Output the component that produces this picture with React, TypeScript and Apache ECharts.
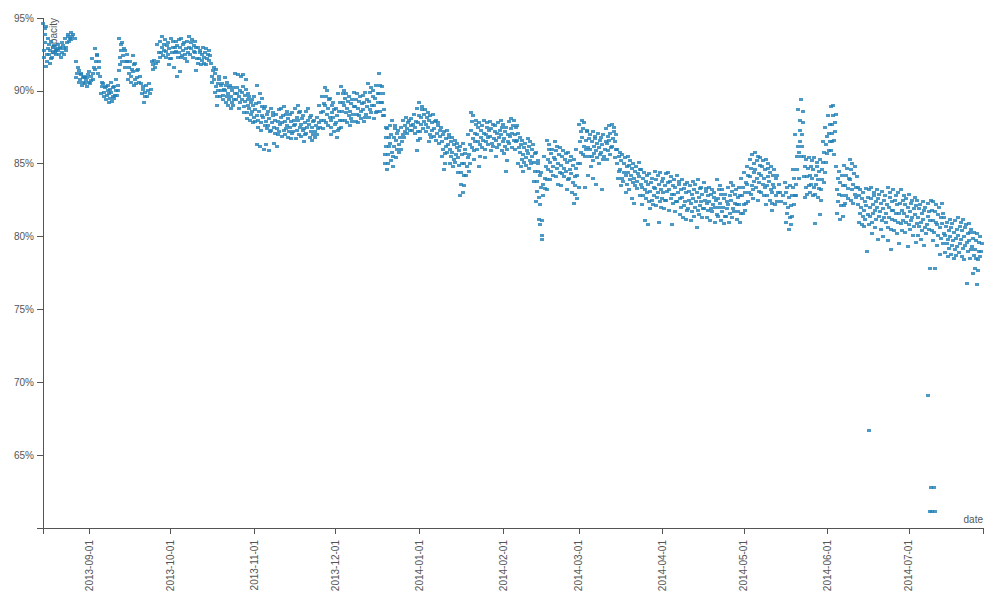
import React, { useEffect, useRef } from 'react';
import * as echarts from 'echarts';

// Battery capacity readings (%), one inner list per day.
const aug2013 = [
  [94.6, 94.3, 93.9, 93.3, 92.8, 92.3], [94.4, 93.6, 92.9, 92.5, 92.0, 91.7], [93.2, 92.8, 92.5, 92.2, 91.9],
  [93.4, 93.0, 92.6, 92.3], [93.1, 92.8, 92.5, 92.7], [92.9, 92.5, 92.8, 93.2], [93.0, 92.6, 92.3, 92.9],
  [93.3, 92.9, 92.5, 93.1], [93.6, 93.3, 92.8, 93.0], [93.9, 93.6, 93.4, 93.7], [94.0, 93.7, 93.5],
  [93.9, 93.6], [92.0, 91.6, 91.2, 90.9], [91.4, 91.1, 90.8, 90.6], [91.2, 90.9, 90.6, 90.4],
  [91.0, 90.7, 90.5, 90.9], [90.9, 90.6, 91.1, 90.3],
];
const sep2013 = [
  [91.3, 91.0, 90.7, 90.5], [92.2, 91.6, 91.2, 90.8], [92.9, 92.5, 92.0, 91.5], [92.4, 92.0, 91.6, 91.2],
  [91.0, 90.6, 90.3, 89.8], [90.5, 90.2, 89.9, 89.6], [90.3, 90.0, 89.7, 89.4], [90.4, 90.1, 89.8, 89.5, 89.2],
  [90.6, 90.2, 89.9, 89.6, 89.3], [90.3, 90.0, 89.7, 89.5], [90.8, 90.4, 90.0, 89.7],
  [93.6, 93.2, 92.8, 92.3, 91.8, 91.4], [93.3, 92.9, 92.4, 92.0], [92.8, 92.5, 92.0, 91.6],
  [92.0, 91.6, 91.2, 90.8], [92.0, 91.5, 91.0, 90.6], [92.4, 91.8, 91.3, 90.8, 90.4], [91.9, 91.4, 90.9, 90.5],
  [91.5, 91.0, 90.6], [90.5, 90.1, 89.8], [90.3, 89.9, 89.6, 89.2], [90.4, 90.0, 89.6], [90.5, 90.1, 89.8],
  [92.0, 91.8, 91.5], [92.1, 91.9, 91.6], [93.2, 92.6, 92.0], [93.4, 93.0, 92.6, 92.3], [93.7, 93.2, 92.8, 92.4],
  [93.5, 93.1, 92.7, 92.3], [93.3, 92.9, 92.5, 92.2, 91.8],
];
const oct2013 = [
  [93.6, 93.0, 92.6, 92.2], [93.4, 93.0, 92.6, 91.6], [93.4, 93.1, 92.7, 92.3, 91.0], [93.5, 93.0, 92.6, 92.3, 91.3],
  [93.6, 93.2, 92.8, 92.4], [93.3, 92.9, 92.5, 92.2], [93.4, 93.0, 92.6, 92.0], [93.7, 93.3, 92.9, 92.5],
  [93.5, 93.1, 92.7, 92.3], [93.4, 93.0, 92.6, 92.2, 91.4], [93.0, 92.6, 92.2, 91.9], [92.8, 92.5, 92.1, 91.8],
  [93.0, 92.6, 92.3, 91.9], [92.9, 92.5, 92.2, 91.8], [92.8, 92.4, 92.1], [91.9, 91.4, 91.0, 90.6],
  [91.6, 91.2, 90.8, 90.3, 89.9], [91.5, 91.0, 90.5, 90.0, 89.6, 89.0], [90.8, 90.4, 90.0, 89.6],
  [90.5, 90.1, 89.7, 89.4], [90.9, 90.4, 90.0, 89.6, 89.2], [90.6, 90.2, 89.8, 89.4, 89.0],
  [90.4, 90.0, 89.6, 89.2, 88.8], [90.2, 89.8, 89.4, 89.0], [91.2, 90.2, 89.8, 89.4],
  [91.1, 90.0, 89.6, 89.2, 88.8], [91.0, 90.3, 89.9, 89.4], [91.1, 90.1, 89.7, 89.3, 88.9, 88.5],
  [90.8, 89.8, 89.4, 89.0, 88.5, 88.1], [89.6, 89.2, 88.8, 88.4, 88.0], [89.4, 89.0, 88.6, 88.2, 87.8],
];
const nov2013 = [
  [89.6, 89.1, 88.7, 88.3, 87.9], [90.4, 89.2, 88.6, 88.0, 87.5, 86.3], [89.8, 88.9, 88.3, 87.8, 87.3, 86.2],
  [89.5, 88.8, 88.2, 87.6, 86.0], [88.9, 88.4, 87.9, 87.4, 86.3], [88.6, 88.1, 87.6, 87.2, 85.9],
  [88.8, 88.3, 87.8, 87.3], [88.5, 88.0, 87.5, 87.1, 86.4], [88.4, 87.9, 87.4, 87.0, 86.2], [88.7, 88.2, 87.7, 87.2],
  [88.8, 88.3, 87.8, 87.3, 86.9], [88.9, 88.4, 87.9, 87.4, 87.0], [88.6, 88.1, 87.6, 87.2, 86.8],
  [88.4, 87.9, 87.5, 87.1, 86.7], [88.5, 88.0, 87.6, 87.2], [88.8, 88.2, 87.7, 87.3, 86.7],
  [89.0, 88.5, 88.0, 87.5, 87.0], [88.6, 88.1, 87.7, 87.3, 86.9], [88.3, 87.8, 87.4, 87.0, 86.5],
  [88.6, 88.0, 87.5, 87.1], [88.8, 88.2, 87.7, 87.2, 86.8], [88.3, 87.9, 87.5, 87.0, 86.6], [88.0, 87.6, 87.2, 86.8],
  [88.2, 87.8, 87.4, 87.0], [89.0, 88.5, 88.0, 87.5], [89.6, 89.1, 88.6, 88.0, 87.4], [90.2, 89.6, 89.0, 88.4, 87.8],
  [90.0, 89.4, 88.8, 88.2, 87.6], [89.5, 89.0, 88.5, 88.0, 87.5, 87.0], [89.2, 88.7, 88.2, 87.7, 87.2],
];
const dec2013 = [
  [88.8, 88.3, 87.8, 87.3, 86.8], [89.8, 89.2, 88.6, 88.0, 87.4], [90.3, 89.8, 89.2, 88.6, 88.0, 87.5],
  [90.0, 89.5, 89.0, 88.5, 88.0], [89.8, 89.3, 88.8, 88.3, 87.8], [89.6, 89.1, 88.6, 88.1, 87.6],
  [89.4, 88.9, 88.4, 87.9], [89.9, 89.4, 88.9, 88.4, 87.9], [89.8, 89.3, 88.8, 88.3, 87.8], [89.6, 89.1, 88.6, 88.1],
  [89.7, 89.2, 88.7, 88.2, 87.9], [89.9, 89.4, 88.9, 88.4], [90.5, 89.9, 89.3, 88.7, 88.2], [90.2, 89.6, 89.0, 88.5],
  [90.0, 89.5, 89.0, 88.5, 88.1], [90.4, 89.8, 89.2, 88.6], [91.2, 90.4, 89.8, 89.2, 88.6],
  [90.3, 89.8, 89.2, 88.7, 88.3], [88.3, 87.5, 86.8, 86.2, 85.6, 85.0], [87.4, 86.8, 86.2, 85.6, 85.0, 84.6],
  [87.6, 87.0, 86.4, 85.8, 85.2], [88.0, 87.4, 86.8, 86.2, 85.5, 84.8], [87.6, 87.1, 86.6, 86.0, 85.4],
  [87.3, 86.8, 86.3, 85.8], [87.5, 87.0, 86.5, 86.0], [88.0, 87.6, 87.2, 86.8], [88.2, 87.8, 87.4, 87.1],
  [88.0, 87.6, 87.3], [88.1, 87.7, 87.3], [88.4, 87.9, 87.5, 87.1], [88.8, 88.3, 87.8, 87.2, 86.6, 85.9],
];
const jan2014 = [
  [89.2, 88.7, 88.2, 87.7, 87.2, 86.7], [88.9, 88.4, 87.9, 87.4], [88.7, 88.2, 87.7, 87.2],
  [88.5, 88.0, 87.5, 87.0, 86.5], [88.3, 87.8, 87.3, 86.8], [88.4, 87.9, 87.4, 86.9], [88.0, 87.6, 87.1, 86.6],
  [87.8, 87.3, 86.9, 86.4], [87.5, 87.0, 86.5, 86.0, 85.5], [87.2, 86.7, 86.2, 85.7, 85.0, 84.6],
  [87.3, 86.8, 86.3, 85.8], [87.0, 86.5, 86.0, 85.5, 85.0], [86.8, 86.3, 85.8, 85.3, 84.8], [86.6, 86.1, 85.6, 85.1],
  [86.4, 85.9, 85.4, 84.9, 84.4], [86.2, 85.6, 85.0, 84.4, 83.6, 82.8], [86.4, 85.7, 85.0, 84.2, 83.5, 83.0],
  [86.0, 85.4, 84.8, 84.2], [87.0, 86.3, 85.6, 85.0, 84.5], [88.5, 87.9, 87.3, 86.7, 86.1],
  [88.3, 87.7, 87.1, 86.5, 85.9, 85.3], [88.0, 87.5, 87.0, 86.5, 86.0], [87.8, 87.3, 86.8, 86.3, 85.5, 84.8],
  [87.6, 87.1, 86.6, 86.1], [88.0, 87.5, 87.0, 86.5, 86.0, 85.4], [87.8, 87.3, 86.8, 86.3],
  [87.9, 87.4, 86.9, 86.4, 85.9], [87.7, 87.2, 86.7, 86.2], [87.6, 87.1, 86.6, 86.1, 85.5], [87.8, 87.3, 86.8, 86.3],
  [88.0, 87.5, 87.0, 86.5, 85.9],
];
const feb2014 = [
  [87.7, 87.2, 86.7, 86.2, 85.7], [87.5, 87.0, 86.5, 86.0, 85.2, 84.5], [87.9, 87.4, 86.9, 86.4],
  [88.1, 87.6, 87.1, 86.6, 86.1], [88.0, 87.5, 87.0, 86.5, 86.0], [87.6, 87.1, 86.6, 86.1, 85.0],
  [86.8, 86.3, 85.8, 85.3, 84.8], [86.6, 86.1, 85.6, 85.1, 84.5], [86.4, 85.9, 85.4, 84.9],
  [86.7, 86.2, 85.7, 85.2, 84.7], [86.5, 86.0, 85.5, 85.0], [86.3, 85.7, 85.1, 84.5, 83.8],
  [85.8, 85.2, 84.5, 83.8, 83.1, 82.4], [85.0, 84.2, 83.4, 82.7, 82.2, 81.2, 80.8], [84.4, 83.6, 82.8, 81.1, 80.1, 79.8],
  [85.5, 84.8, 84.0, 83.3], [86.6, 86.0, 85.3, 84.6, 83.9, 83.2], [86.3, 85.7, 85.1, 84.5, 83.9],
  [86.0, 85.4, 84.8, 84.2], [86.5, 85.9, 85.3, 84.7, 84.1], [86.2, 85.6, 85.0, 84.4, 83.6],
  [86.1, 85.5, 84.9, 84.3, 83.5], [85.9, 85.3, 84.7, 84.1], [85.7, 85.1, 84.5, 83.9, 83.2], [85.8, 85.2, 84.6, 84.0],
  [85.5, 84.9, 84.3, 83.7, 83.0], [85.3, 84.7, 84.1, 83.5, 82.9, 82.3], [86.0, 85.0, 84.2, 83.4, 82.6],
];
const mar2014 = [
  [87.7, 87.2, 86.5, 85.8, 85.0], [88.0, 87.4, 86.8, 86.2, 85.6], [87.8, 87.2, 86.6, 86.0, 85.5, 83.4],
  [87.3, 86.7, 86.1, 85.5, 84.2], [87.0, 86.5, 86.0, 85.5, 84.8], [87.2, 86.7, 86.2, 85.7, 85.2, 84.0],
  [86.9, 86.4, 85.9, 85.4, 83.6], [87.1, 86.6, 86.1, 85.6, 85.0], [86.8, 86.3, 85.8, 85.3, 83.2],
  [87.0, 86.5, 86.0, 85.5], [87.4, 86.9, 86.4, 85.9, 85.3], [87.6, 87.1, 86.6, 86.1, 85.6], [87.7, 87.2, 86.7, 86.2],
  [87.5, 87.0, 86.5, 86.0, 85.4], [86.0, 85.5, 85.0, 84.5, 84.0], [85.8, 85.2, 84.6, 84.0, 83.5],
  [85.6, 85.0, 84.4, 83.8], [85.4, 84.8, 84.2, 83.6, 83.0], [85.5, 84.9, 84.4, 83.9, 83.2],
  [85.2, 84.7, 84.2, 83.7, 82.6], [85.0, 84.5, 84.0, 83.5, 82.3], [84.8, 84.3, 83.8, 83.3],
  [85.1, 84.6, 84.1, 83.6, 82.8], [84.6, 84.0, 83.4, 82.8, 82.2], [84.4, 83.8, 83.2, 82.6, 81.1],
  [84.2, 83.6, 83.0, 82.4, 80.8], [84.3, 83.7, 83.1, 82.5, 81.9], [84.0, 83.4, 82.8, 82.2],
  [84.5, 83.9, 83.3, 82.7, 82.1], [84.2, 83.6, 83.0, 82.4, 81.0], [84.4, 83.8, 83.2, 82.6, 82.0],
];
const apr2014 = [
  [84.0, 83.5, 83.0, 82.5, 81.9], [84.3, 83.7, 83.1, 82.5], [84.4, 83.8, 83.2, 82.6, 81.8],
  [84.1, 83.5, 82.9, 82.3, 80.8], [83.9, 83.4, 82.9, 82.4, 81.7], [84.2, 83.6, 83.0, 82.4],
  [83.8, 83.2, 82.6, 82.0, 81.5], [83.9, 83.3, 82.7, 82.1, 81.3], [83.6, 83.0, 82.4, 81.8, 81.2],
  [83.7, 83.1, 82.5, 81.9], [83.5, 82.9, 82.3, 81.7, 81.1], [83.8, 83.2, 82.6, 82.0, 81.4],
  [83.6, 83.0, 82.4, 81.8, 80.6], [83.9, 83.3, 82.7, 82.1, 81.5], [83.4, 82.9, 82.4, 81.9, 81.3],
  [83.7, 83.1, 82.5, 81.9], [83.3, 82.8, 82.3, 81.8, 81.3], [83.4, 82.9, 82.4, 81.9, 81.1], [83.2, 82.7, 82.2, 81.7],
  [83.0, 82.5, 82.0, 81.5, 81.0], [83.9, 83.2, 82.6, 82.0, 81.4], [83.5, 82.9, 82.3, 81.7, 81.1],
  [83.2, 82.6, 82.0, 81.4, 80.9], [82.9, 82.4, 81.9, 81.4], [83.4, 82.8, 82.2, 81.6, 81.0],
  [83.7, 83.1, 82.5, 81.9, 81.3], [83.5, 82.9, 82.3, 81.7], [83.2, 82.7, 82.2, 81.7, 81.2],
  [83.4, 82.8, 82.2, 81.6, 81.0], [84.0, 83.4, 82.8, 82.2, 81.6],
];
const may2014 = [
  [84.4, 83.7, 83.0, 82.3, 81.8], [84.8, 84.2, 83.6, 83.0, 82.4], [85.3, 84.7, 84.1, 83.5, 82.9],
  [85.6, 85.0, 84.4, 83.8, 83.2, 82.6], [85.8, 85.2, 84.6, 84.0, 83.4], [85.5, 84.9, 84.3, 83.7, 83.1, 82.5],
  [85.4, 84.8, 84.2, 83.6, 83.0], [85.2, 84.6, 84.0, 83.4, 82.8], [85.3, 84.7, 84.1, 83.5, 82.8, 82.2],
  [85.0, 84.4, 83.8, 83.2, 82.5], [84.8, 84.2, 83.6, 83.0, 82.3, 81.8], [84.6, 84.0, 83.4, 82.8, 82.2],
  [84.2, 83.6, 83.0, 82.4], [83.0, 82.4], [82.8], [83.7, 83.0, 82.3, 81.6, 81.0], [83.4, 82.7, 82.0, 81.3, 80.5],
  [83.5, 82.8, 82.1, 81.4, 80.8], [84.6, 84.0, 83.4, 82.8, 82.2], [87.0, 86.2, 85.5, 84.6, 83.6, 82.8],
  [88.7, 88.0, 87.3, 86.5, 85.8, 84.0], [89.4, 88.6, 87.8, 87.0, 86.2, 85.5], [85.5, 84.8, 84.1, 83.4, 82.7],
  [85.3, 84.7, 84.1, 83.5, 82.9], [85.4, 84.8, 84.2, 83.6, 83.0], [85.2, 84.6, 84.0, 83.4, 82.8],
  [85.4, 84.8, 84.2, 83.6, 82.9, 80.9], [85.1, 84.5, 83.9, 83.3, 82.7], [85.3, 84.6, 83.9, 83.2, 82.5, 81.5],
  [86.5, 85.8, 85.1, 84.4, 83.7], [87.5, 86.9, 86.3, 85.7, 85.1],
];
const jun2014 = [
  [88.3, 87.7, 87.1, 86.5, 85.9], [88.9, 88.3, 87.7, 87.1, 86.5, 85.9], [89.0, 88.4, 87.8, 87.2, 86.6, 85.6],
  [84.8, 84.0, 83.2, 82.4, 81.6], [84.5, 83.7, 82.9, 82.1, 81.2], [84.2, 83.5, 82.8, 82.1, 81.4],
  [84.9, 84.2, 83.5, 82.8, 82.3], [84.7, 84.0, 83.3, 82.6], [85.3, 84.6, 83.9, 83.2, 82.5],
  [85.0, 84.3, 83.6, 82.9, 82.3], [84.8, 84.1, 83.4, 82.7], [83.4, 82.8, 82.2, 81.6, 81.0],
  [83.2, 82.6, 82.0, 81.4, 80.8], [83.0, 82.4, 81.8, 81.2, 80.7], [83.3, 82.7, 82.1, 81.5, 79.0],
  [83.2, 82.6, 82.0, 81.4, 80.8, 66.7], [83.4, 82.8, 82.2, 81.6, 81.0, 80.2], [83.0, 82.4, 81.8, 81.2, 80.6],
  [83.2, 82.6, 82.0, 81.4, 79.8], [82.9, 82.3, 81.7, 81.1, 80.5], [83.1, 82.5, 81.9, 81.3, 80.0],
  [82.8, 82.2, 81.6, 81.0], [83.4, 82.7, 82.0, 81.3, 80.6, 79.7], [83.0, 82.4, 81.8, 81.2, 80.5, 79.1],
  [83.2, 82.5, 81.8, 81.1, 80.4], [82.8, 82.2, 81.6, 81.0, 80.2], [83.0, 82.3, 81.6, 80.9, 79.5],
  [83.2, 82.5, 81.8, 81.1, 80.4], [82.8, 82.2, 81.6, 81.0, 80.3], [82.6, 82.0, 81.4, 80.8, 79.3],
];
const jul2014 = [
  [82.9, 82.3, 81.7, 81.1, 80.5], [82.5, 81.9, 81.3, 80.7, 80.1], [82.7, 82.1, 81.5, 80.9, 79.6],
  [82.5, 81.9, 81.3, 80.7, 80.1], [82.2, 81.6, 81.0, 80.4, 79.8], [82.4, 81.8, 81.2, 80.6, 79.4],
  [82.0, 81.4, 80.8, 80.2], [82.3, 81.7, 81.1, 80.5, 77.8, 69.1, 61.1], [82.5, 81.8, 81.1, 80.4, 79.7, 62.8, 61.1],
  [82.4, 81.7, 81.0, 80.3, 77.8, 62.8, 61.1], [82.2, 81.5, 80.8, 80.1, 79.4], [82.0, 81.3, 80.6, 79.9, 78.8],
  [82.3, 81.6, 80.9, 80.2, 79.5], [81.3, 80.7, 80.1, 79.5, 78.9], [81.0, 80.4, 79.8, 79.2, 78.6],
  [81.2, 80.6, 80.0, 79.4, 78.8], [80.9, 80.3, 79.7, 79.1, 78.5], [81.1, 80.5, 79.9, 79.3, 78.7],
  [81.3, 80.7, 80.1, 79.5, 78.9], [81.0, 80.4, 79.8, 79.2, 78.6], [81.2, 80.6, 80.0, 79.4, 78.4],
  [80.8, 80.2, 79.6, 79.0, 76.8], [80.9, 80.3, 79.7, 79.1, 78.5], [80.5, 79.9, 79.3, 78.7, 77.5],
  [80.3, 79.7, 79.1, 78.5, 77.8], [80.2, 79.6, 79.0, 78.4, 77.7, 76.7], [80.0, 79.5, 79.0, 78.6],
];

const monthBlocks = [
  { year: 2013, month: 7, firstDay: 15, days: aug2013 },
  { year: 2013, month: 8, firstDay: 1, days: sep2013 },
  { year: 2013, month: 9, firstDay: 1, days: oct2013 },
  { year: 2013, month: 10, firstDay: 1, days: nov2013 },
  { year: 2013, month: 11, firstDay: 1, days: dec2013 },
  { year: 2014, month: 0, firstDay: 1, days: jan2014 },
  { year: 2014, month: 1, firstDay: 1, days: feb2014 },
  { year: 2014, month: 2, firstDay: 1, days: mar2014 },
  { year: 2014, month: 3, firstDay: 1, days: apr2014 },
  { year: 2014, month: 4, firstDay: 1, days: may2014 },
  { year: 2014, month: 5, firstDay: 1, days: jun2014 },
  { year: 2014, month: 6, firstDay: 1, days: jul2014 },
];

const HOUR = 3600 * 1000;
const DAY = 24 * HOUR;
// order in which a day's readings were taken (slot stride per reading count)
const slotStride: Record<number, number> = { 1: 1, 2: 1, 3: 2, 4: 3, 5: 3, 6: 5, 7: 3 };

function buildPoints(): [number, number][] {
  const pts: [number, number][] = [];
  monthBlocks.forEach((b) => {
    b.days.forEach((vals, i) => {
      const dayStart = new Date(b.year, b.month, b.firstDay + i).getTime();
      const n = vals.length;
      const stride = slotStride[n] || 1;
      vals.forEach((v, k) => {
        const slot = (k * stride) % n;
        pts.push([dayStart + ((slot + 0.5) * 24 / n) * HOUR, v]);
      });
    });
  });
  return pts;
}

const pad = (n: number) => (n < 10 ? '0' + n : '' + n);
const FONT = 'Liberation Sans, Arial, Helvetica, sans-serif';
const AXIS_COLOR = '#555';

export default function App() {
  const ref = useRef<HTMLDivElement>(null);
  useEffect(() => {
    if (!ref.current) return;
    const chart = echarts.init(ref.current, null, { renderer: 'svg' });
    const xMin = new Date(2013, 7, 15).getTime();
    const xMax = new Date(2014, 6, 28, 9).getTime();
    chart.setOption({
      animation: false,
      grid: { left: 43, right: 13, top: 18, bottom: 76, containLabel: false },
      xAxis: {
        type: 'time',
        min: xMin,
        max: xMax,
        minInterval: 28 * DAY,
        maxInterval: 31 * DAY,
        splitLine: { show: false },
        axisLine: { show: true, onZero: false, lineStyle: { color: AXIS_COLOR, width: 1 } },
        axisTick: { show: true, length: 6, lineStyle: { color: AXIS_COLOR } },
        axisLabel: {
          rotate: 90,
          margin: 12,
          fontSize: 10,
          fontFamily: FONT,
          color: AXIS_COLOR,
          showMinLabel: false,
          showMaxLabel: false,
          hideOverlap: false,
          formatter: (v: number) => {
            const d = new Date(v);
            return `${d.getFullYear()}-${pad(d.getMonth() + 1)}-${pad(d.getDate())}`;
          },
        },
      },
      yAxis: {
        type: 'value',
        min: 60,
        max: 95,
        interval: 5,
        splitLine: { show: false },
        axisLine: { show: true, lineStyle: { color: AXIS_COLOR, width: 1 } },
        axisTick: { show: true, length: 6, lineStyle: { color: AXIS_COLOR } },
        axisLabel: {
          margin: 9,
          fontSize: 10,
          fontFamily: FONT,
          color: AXIS_COLOR,
          formatter: (v: number) => (v === 60 ? '' : v + '%'),
        },
      },
      graphic: [
        { type: 'line', shape: { x1: 43, y1: 528, x2: 43, y2: 534 }, style: { stroke: AXIS_COLOR, lineWidth: 1 } },
        { type: 'line', shape: { x1: 983, y1: 528, x2: 983, y2: 534 }, style: { stroke: AXIS_COLOR, lineWidth: 1 } },
        {
          type: 'text',
          x: 48,
          y: 18,
          rotation: Math.PI / 2,
          style: { text: 'capacity', align: 'right', verticalAlign: 'top', font: `10px ${FONT}`, fill: AXIS_COLOR },
        },
        {
          type: 'text',
          x: 983,
          y: 524,
          style: { text: 'date', align: 'right', verticalAlign: 'bottom', font: `10px ${FONT}`, fill: AXIS_COLOR },
        },
      ],
      series: [
        {
          type: 'scatter',
          data: buildPoints(),
          symbol: 'rect',
          symbolSize: [4, 3],
          itemStyle: { color: '#1f80b7' },
          progressive: 0,
          large: false,
          silent: true,
        },
      ],
    });
    const svg = ref.current.querySelector('svg');
    if (svg) (svg as SVGElement).style.shapeRendering = 'crispEdges';
    return () => chart.dispose();
  }, []);
  return <div ref={ref} style={{ position: 'absolute', left: 0, top: 0, width: 996, height: 604 }} />;
}
